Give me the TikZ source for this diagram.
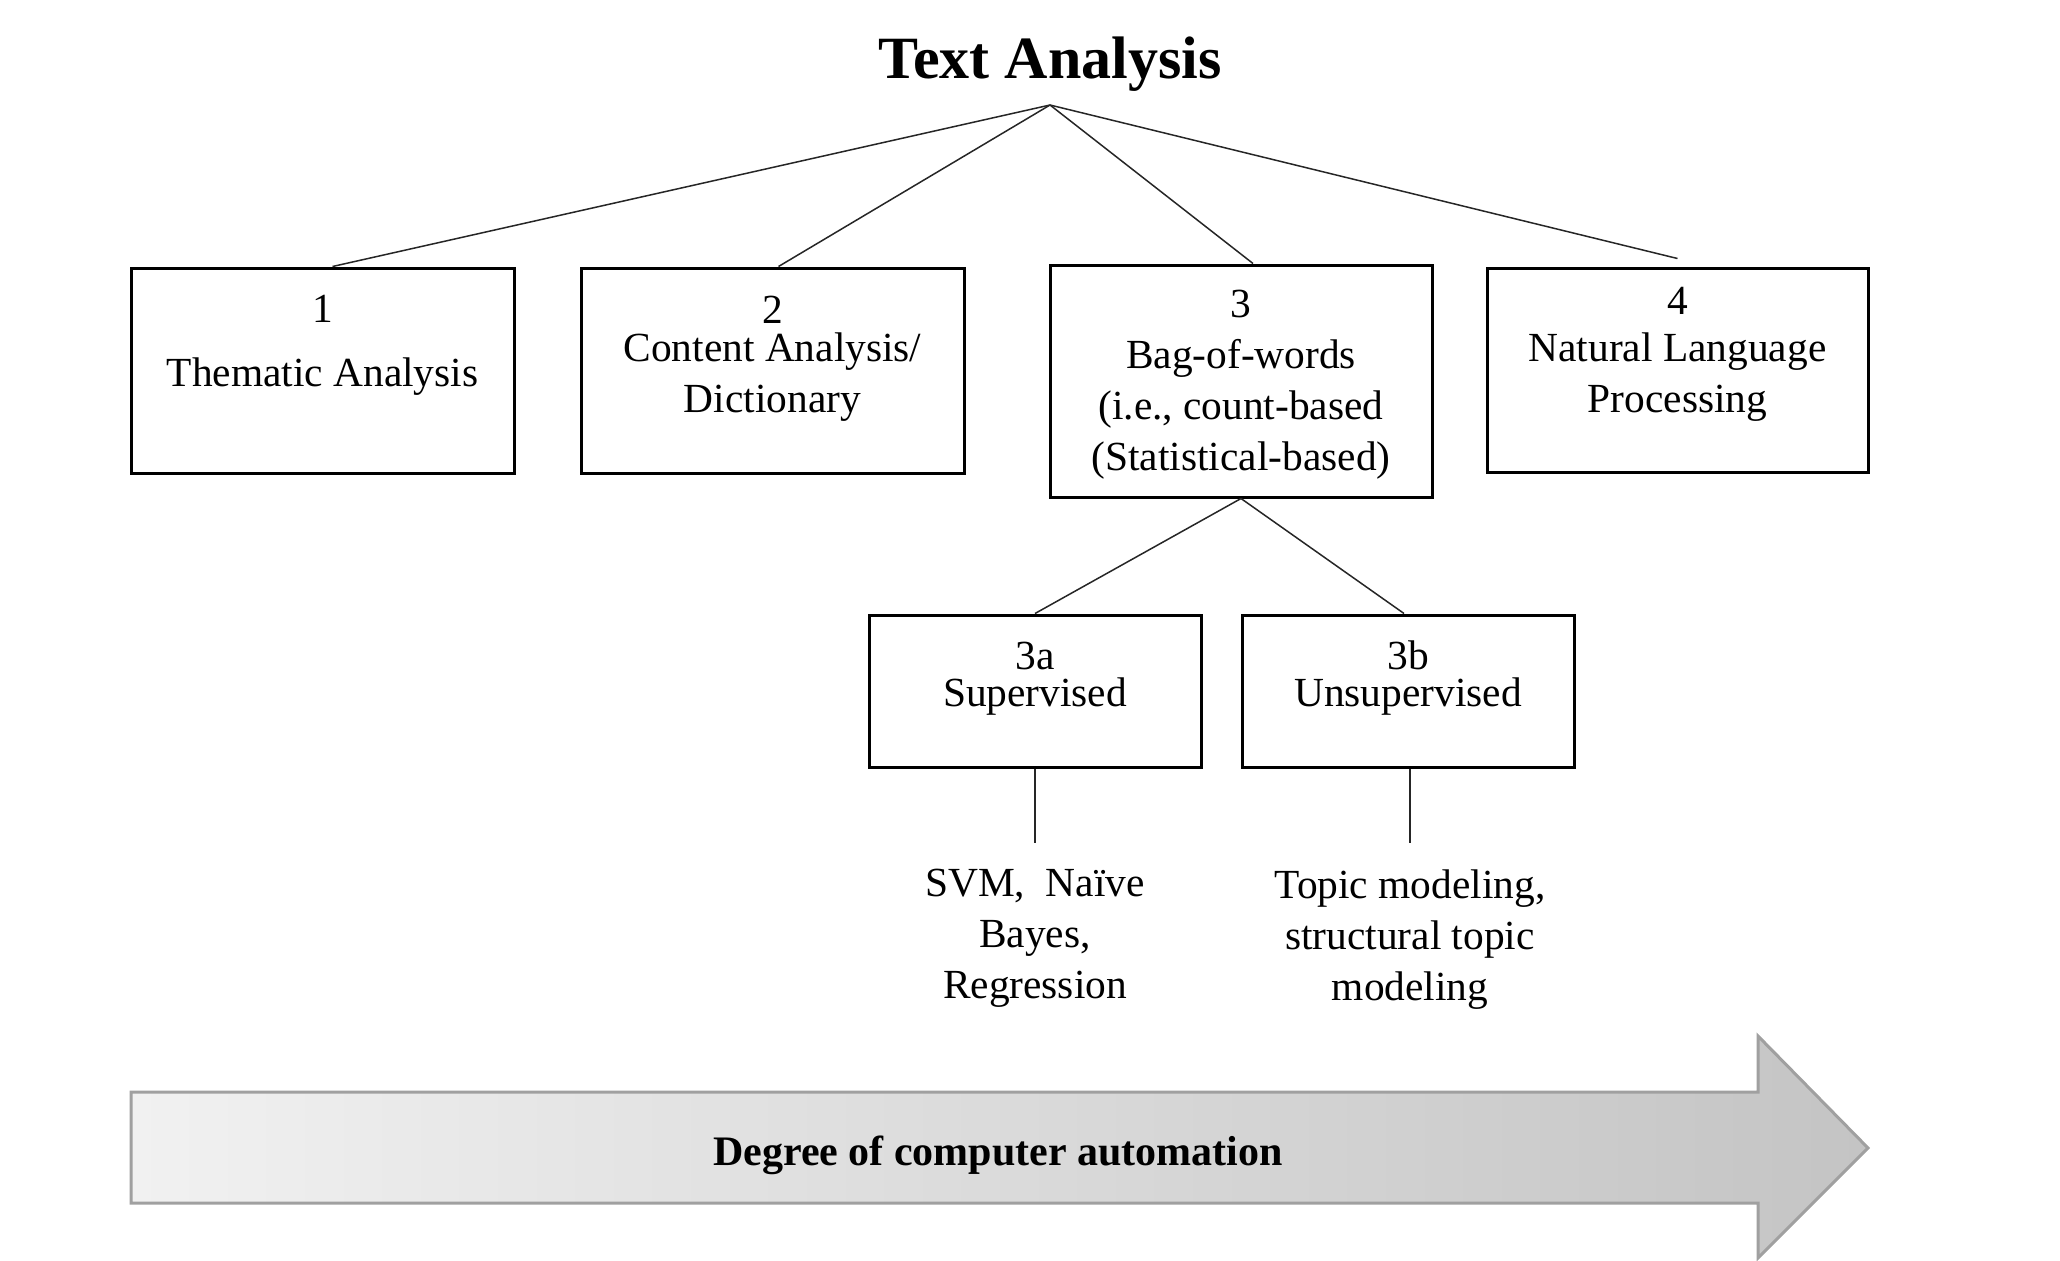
\documentclass[tikz,border=0pt]{standalone}
\usepackage{fontspec}
\setmainfont{Liberation Serif}
\begin{document}
\begin{tikzpicture}[x=0.5pt,y=-0.5pt,
  box/.style={draw, line width=1.5pt, inner sep=0pt, rectangle},
  txt/.style={font=\fontsize{20.7}{25.5}\selectfont, align=center, inner sep=0pt, anchor=base},
  conn/.style={line width=0.75pt, draw=black!85}]
\useasboundingbox (0,0) rectangle (2060,1260);
\definecolor{arrowleft}{RGB}{241,241,241}
\definecolor{arrowright}{RGB}{196,196,196}
\definecolor{arrowline}{RGB}{160,160,160}
% title
\node[font=\fontsize{30}{36}\selectfont\bfseries, inner sep=0pt, anchor=base] (title) at (1050,78) {Text Analysis};
\coordinate (apex) at (1050,105);
% boxes
\node[box, minimum width=191.5pt, minimum height=102.5pt] (b1) at (322.5,370.5) {};
\node[box, minimum width=191.5pt, minimum height=102.5pt] (b2) at (772.5,370.5) {};
\node[box, minimum width=191pt, minimum height=116pt] (b3) at (1241,381) {};
\node[box, minimum width=190.5pt, minimum height=102pt] (b4) at (1677.5,370) {};
\node[box, minimum width=166pt, minimum height=76pt] (b3a) at (1035,691) {};
\node[box, minimum width=166pt, minimum height=76pt] (b3b) at (1408,691) {};
% box texts (anchor=base is the last line's baseline)
\node[txt] (t1) at (322.5,386) {1\\[6.5pt]Thematic Analysis};
\node[txt] (t2) at (772.5,412) {2\\[-6.5pt]Content Analysis/\\Dictionary};
\node[txt] (t3) at (1241,470) {3\\Bag-of-words\\(i.e., count-based\\(Statistical-based)};
\node[txt] (t4) at (1677.5,412) {4\\[-2pt]Natural Language\\Processing};
\node[txt] (t3a) at (1035,706) {3a\\[-7pt]Supervised};
\node[txt] (t3b) at (1408,706) {3b\\[-7pt]Unsupervised};
\node[txt] (svm) at (1035,998) {SVM,\ \ Na\"ive\\Bayes,\\Regression};
\node[txt] (topic) at (1410,1000) {Topic modeling,\\structural topic\\modeling};
% connectors
\coordinate (e4) at ([yshift=4pt]b4.north);
\coordinate (d3a) at (1035,843);
\coordinate (d3b) at (1410,843);
\draw[conn] (apex) -- ([xshift=5pt]b1.north);
\draw[conn] (apex) -- ([xshift=3pt]b2.north);
\draw[conn] (apex) -- ([xshift=6pt]b3.north);
\draw[conn] (apex) -- (e4);
\draw[conn] (b3.south) -- (b3a.north);
\draw[conn] (b3.south) -- ([xshift=-2pt]b3b.north);
\draw[conn] (b3a.south) -- (d3a);
\draw[conn] ([xshift=1pt]b3b.south) -- (d3b);
% arrow
\path[left color=arrowleft, right color=arrowright, draw=arrowline, line width=1.5pt]
  (131,1092) -- (1758,1092) -- (1758,1036) -- (1868,1148) -- (1758,1258) -- (1758,1203) -- (131,1203) -- cycle;
\node[font=\fontsize{21}{25}\selectfont\bfseries, inner sep=0pt, anchor=base] (deg) at (998,1165) {Degree of computer automation};
\end{tikzpicture}
\end{document}
